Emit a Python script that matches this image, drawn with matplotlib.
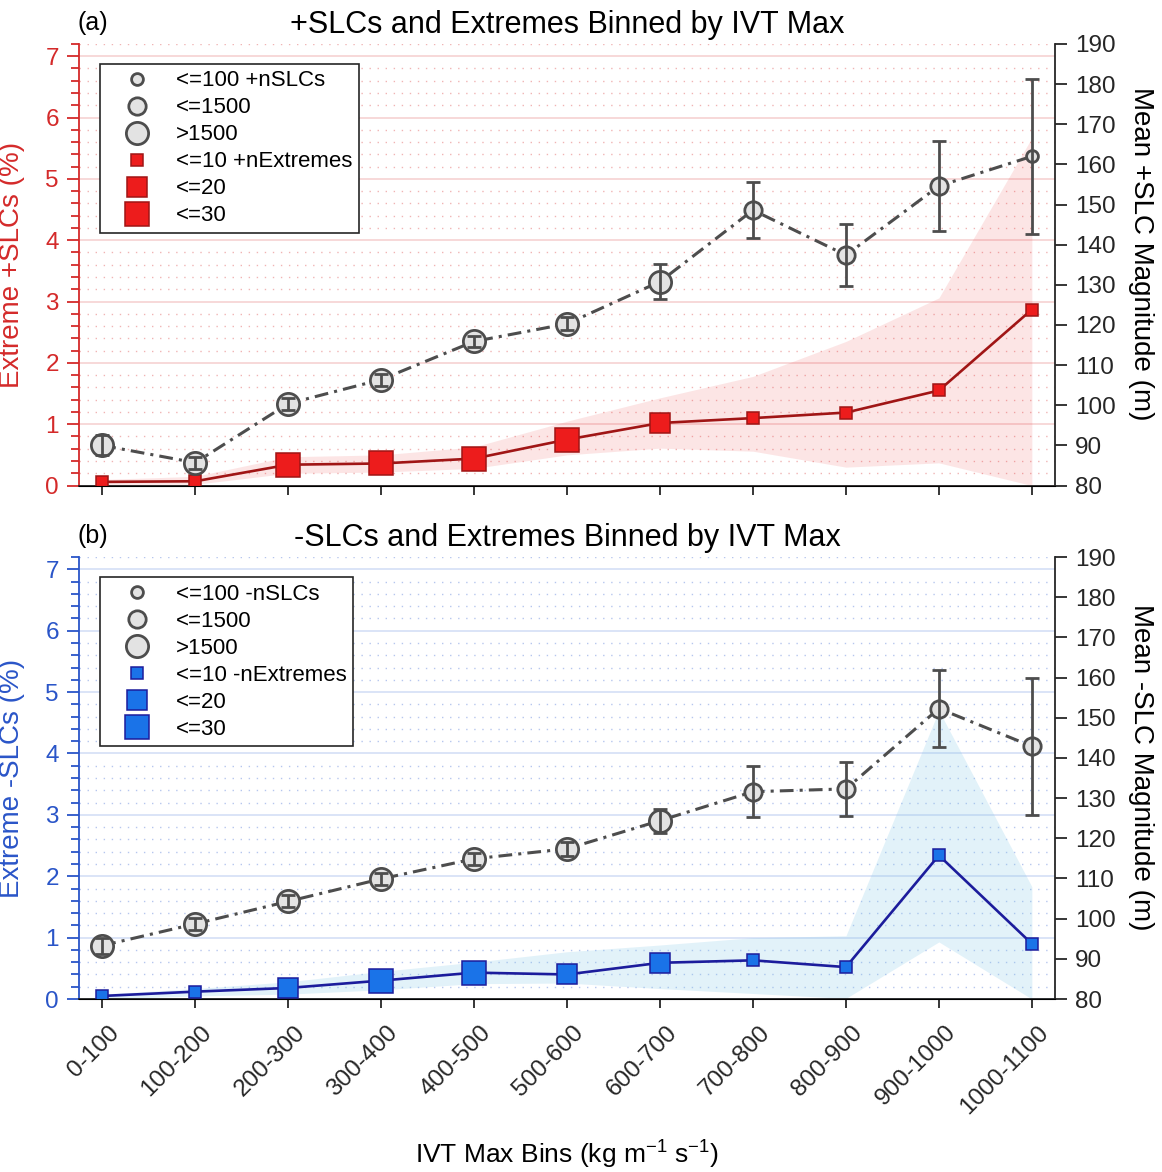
import matplotlib
matplotlib.use("Agg")
import matplotlib.pyplot as plt
from matplotlib.lines import Line2D
from matplotlib.ticker import MultipleLocator
from matplotlib.transforms import ScaledTranslation

plt.rcParams["font.family"] = ["Liberation Sans", "DejaVu Sans"]
plt.rcParams["mathtext.default"] = "regular"

BINS = ["0-100", "100-200", "200-300", "300-400", "400-500", "500-600",
        "600-700", "700-800", "800-900", "900-1000", "1000-1100"]

# size classes: SLC count 0: <=100, 1: <=1500, 2: >1500
#               extreme count 0: <=10, 1: <=20, 2: <=30

# (a) positive SLCs
POS_SLC_MEAN = [90.0, 85.7, 100.4, 106.4, 115.9, 120.3, 130.8, 148.6, 137.4, 154.6, 162.0]
POS_SLC_ERR = [2.5, 1.5, 1.5, 1.5, 1.4, 1.6, 4.3, 7.0, 7.8, 11.2, 19.3]
POS_SLC_CLASS = [2, 2, 2, 2, 2, 2, 2, 1, 1, 1, 0]
POS_EXT_PCT = [0.06, 0.07, 0.34, 0.36, 0.44, 0.75, 1.02, 1.10, 1.19, 1.55, 2.87]
POS_EXT_CLASS = [0, 0, 2, 2, 2, 2, 1, 0, 0, 0, 0]
POS_EXT_LO = [0.02, 0.02, 0.20, 0.22, 0.28, 0.50, 0.61, 0.56, 0.30, 0.37, 0.0]
POS_EXT_HI = [0.10, 0.15, 0.47, 0.50, 0.63, 1.05, 1.43, 1.78, 2.35, 3.06, 5.67]

# (b) negative SLCs
NEG_SLC_MEAN = [93.3, 98.7, 104.3, 109.9, 114.9, 117.4, 124.4, 131.6, 132.3, 152.3, 142.9]
NEG_SLC_ERR = [2.0, 1.5, 1.5, 1.5, 1.5, 1.8, 3.0, 6.3, 6.7, 9.5, 17.0]
NEG_SLC_CLASS = [2, 2, 2, 2, 2, 2, 2, 1, 1, 1, 1]
NEG_EXT_PCT = [0.05, 0.12, 0.18, 0.30, 0.43, 0.40, 0.59, 0.63, 0.52, 2.34, 0.90]
NEG_EXT_CLASS = [0, 0, 1, 2, 2, 1, 1, 0, 0, 0, 0]
NEG_EXT_LO = [0.0, 0.05, 0.08, 0.15, 0.25, 0.26, 0.17, 0.09, 0.01, 0.93, 0.0]
NEG_EXT_HI = [0.08, 0.17, 0.28, 0.45, 0.60, 0.77, 0.88, 1.00, 1.03, 4.70, 1.83]

CIRCLE_MS = [8.5, 12.5, 16]
SQUARE_MS = [9, 14.5, 17.5]
GRAY = "#4d4d4d"
TICK_FS = 17.5


def draw_panel(ax, mean, err, slc_class, pct, ext_class, lo, hi, sty):
    x = list(range(len(BINS)))
    ax2 = ax.twinx()

    ax.fill_between(x, lo, hi, color=sty["fill"], alpha=sty["alpha"], lw=0, zorder=1)
    ax.plot(x, pct, color=sty["line"], lw=1.9, zorder=3)
    for xi, yi, c in zip(x, pct, ext_class):
        ax.plot([xi], [yi], "s", ms=SQUARE_MS[c], mfc=sty["face"], mec=sty["line"], mew=1.1, zorder=4)

    ax2.plot(x, mean, color=GRAY, lw=2.2, ls=(0, (4.5, 2, 1, 2)), zorder=2)
    for xi, yi, c in zip(x, mean, slc_class):
        ax2.plot([xi], [yi], "o", ms=CIRCLE_MS[c], mfc="#e3e3e3", mec=GRAY, mew=2.0, zorder=3)
    ax2.errorbar(x, mean, yerr=err, fmt="none", ecolor=GRAY, elinewidth=2, capsize=5, capthick=2, zorder=4)

    ax.set_xlim(-0.25, 10.25)
    ax.set_ylim(0, 7.2)
    ax.set_yticks(range(8))
    ax.yaxis.set_minor_locator(MultipleLocator(0.2))
    ax2.set_ylim(80, 190)
    ax2.set_yticks(range(80, 191, 10))
    ax.set_xticks(x)

    ax.set_axisbelow(True)
    ax.grid(which="major", axis="y", color=sty["grid"], lw=1.3)
    ax.grid(which="minor", axis="y", color=sty["dots"], lw=1.0, ls=(0, (1, 4.8)))

    for a in (ax, ax2):
        a.spines["top"].set_visible(False)
    ax.spines["right"].set_visible(False)
    ax2.spines["left"].set_visible(False)
    ax.spines["left"].set_color(sty["axis"])
    ax.spines["left"].set_linewidth(1.3)
    ax.spines["bottom"].set_color("#262626")
    ax.spines["bottom"].set_linewidth(1.3)
    ax2.spines["right"].set_color("#262626")
    ax2.spines["right"].set_linewidth(1.3)

    ax.tick_params(axis="y", which="major", direction="out", length=8.5, width=1.3,
                   colors=sty["axis"], labelsize=TICK_FS, pad=6)
    ax.tick_params(axis="y", which="minor", direction="out", length=5.5, width=1.3, colors=sty["axis"])
    ax.tick_params(axis="x", direction="out", length=6.5, width=1.3, colors="#262626",
                   labelsize=TICK_FS, pad=3)
    ax2.tick_params(axis="y", direction="out", length=8.5, width=1.3, colors="#262626",
                    labelsize=TICK_FS, pad=6)

    ax.set_title(sty["title"], fontsize=22, pad=8)
    ax.text(-0.002, 1.032, sty["tag"], transform=ax.transAxes, fontsize=18, va="baseline", ha="left")

    ax.set_ylabel(sty["ylabel"], fontsize=20, color=sty["axis"])
    ax.yaxis.set_label_coords(-0.055, 0.5)
    ax2.set_ylabel(sty["ylabel2"], fontsize=20, rotation=270, va="center", ha="center")
    ax2.yaxis.set_label_coords(1.088, 0.525)

    handles = []
    for c in range(3):
        handles.append(Line2D([], [], ls="none", marker="o", ms=CIRCLE_MS[c], mfc="#e3e3e3", mec=GRAY, mew=2.0))
    for c in range(3):
        handles.append(Line2D([], [], ls="none", marker="s", ms=SQUARE_MS[c], mfc=sty["face"], mec=sty["line"], mew=1.1))
    leg = ax2.legend(handles, sty["legend"], loc="upper left", bbox_to_anchor=(0.0215, 0.955),
                     borderaxespad=0, fontsize=16, handlelength=2.7, handletextpad=0.4,
                     borderpad=0.3, labelspacing=0.27, fancybox=False, framealpha=1)
    leg.get_frame().set_edgecolor("#262626")
    leg.get_frame().set_linewidth(1.2)
    return ax2


fig = plt.figure(figsize=(11.62, 11.72), dpi=100)
ax_a = fig.add_axes([0.068, 0.5857, 0.840, 0.3768])
ax_b = fig.add_axes([0.068, 0.1476, 0.840, 0.3771])

style_a = {
    "fill": "#e8191b", "alpha": 0.11, "line": "#a01515", "face": "#ed1c1c",
    "axis": "#d42a2a", "grid": "#f7d6d6", "dots": "#f0b4b4",
    "title": "+SLCs and Extremes Binned by IVT Max", "tag": "(a)",
    "ylabel": "Extreme +SLCs (%)", "ylabel2": "Mean +SLC Magnitude (m)",
    "legend": ["<=100 +nSLCs", "<=1500", ">1500", "<=10 +nExtremes", "<=20", "<=30"],
}
style_b = {
    "fill": "#8cccea", "alpha": 0.25, "line": "#1c1c9c", "face": "#1a73e8",
    "axis": "#2a55c8", "grid": "#d8e2f7", "dots": "#b6c6ee",
    "title": "-SLCs and Extremes Binned by IVT Max", "tag": "(b)",
    "ylabel": "Extreme -SLCs (%)", "ylabel2": "Mean -SLC Magnitude (m)",
    "legend": ["<=100 -nSLCs", "<=1500", ">1500", "<=10 -nExtremes", "<=20", "<=30"],
}

draw_panel(ax_a, POS_SLC_MEAN, POS_SLC_ERR, POS_SLC_CLASS, POS_EXT_PCT, POS_EXT_CLASS,
           POS_EXT_LO, POS_EXT_HI, style_a)
draw_panel(ax_b, NEG_SLC_MEAN, NEG_SLC_ERR, NEG_SLC_CLASS, NEG_EXT_PCT, NEG_EXT_CLASS,
           NEG_EXT_LO, NEG_EXT_HI, style_b)

ax_a.tick_params(axis="x", labelbottom=False)
ax_b.set_xticklabels(BINS, rotation=45, ha="right", va="center", rotation_mode="anchor")
shift = ScaledTranslation(0.135, -0.17, fig.dpi_scale_trans)
for lbl in ax_b.get_xticklabels():
    lbl.set_transform(lbl.get_transform() + shift)

fig.text(0.488, 0.0075, "IVT Max Bins (kg m$^{-1}$ s$^{-1}$)", fontsize=19, ha="center", va="baseline")

fig.savefig("out.png", dpi=100)
